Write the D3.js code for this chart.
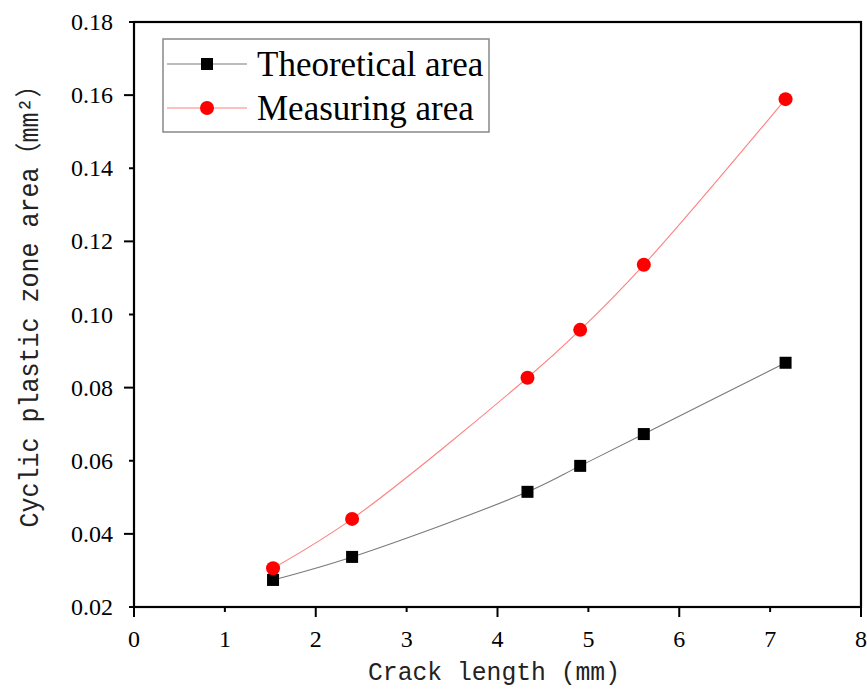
<!DOCTYPE html>
<html>
<head>
<meta charset="utf-8">
<script src="https://cdn.jsdelivr.net/npm/d3@7"></script>
<style>
  html, body { margin: 0; padding: 0; background: #fff; }
  svg { display: block; }
</style>
</head>
<body>
<svg id="chart" width="867" height="690"></svg>
<script>
// Crack length (mm) at each measurement
const crackLength = [1.53, 2.40, 4.33, 4.91, 5.61, 7.17];
// Cyclic plastic zone area (mm²)
const theoreticalArea = [0.0274, 0.0337, 0.0515, 0.0586, 0.0673, 0.0868];
const measuringArea   = [0.0306, 0.0441, 0.0827, 0.0958, 0.1136, 0.1589];
const seriesNames = ["Theoretical area", "Measuring area"];
const xTicks = [0, 1, 2, 3, 4, 5, 6, 7, 8];
const yTicks = [0.02, 0.04, 0.06, 0.08, 0.10, 0.12, 0.14, 0.16, 0.18];

const svg = d3.select("#chart");
const plot = { left: 134, right: 861, top: 22, bottom: 607 };

const x = d3.scaleLinear().domain([0, 8]).range([plot.left, plot.right]);
const y = d3.scaleLinear().domain([0.02, 0.18]).range([plot.bottom, plot.top]);

const serif = "'Liberation Serif', 'Times New Roman', serif";
const mono = "'Liberation Mono', 'Noto Sans CJK SC', monospace";

// Plot frame
svg.append("rect")
  .attr("x", plot.left).attr("y", plot.top)
  .attr("width", plot.right - plot.left).attr("height", plot.bottom - plot.top)
  .attr("fill", "none").attr("stroke", "#000").attr("stroke-width", 2.2);

// Bottom axis: longer ticks on even values, shorter on odd ones
const xAxis = svg.append("g").attr("transform", `translate(0,${plot.bottom})`);
xAxis.selectAll("line").data(xTicks).join("line")
  .attr("x1", d => x(d)).attr("x2", d => x(d))
  .attr("y1", 0).attr("y2", d => d % 2 === 0 ? 10 : 5)
  .attr("stroke", "#000").attr("stroke-width", 2);
xAxis.selectAll("text").data(xTicks).join("text")
  .attr("x", d => x(d)).attr("y", 40)
  .attr("text-anchor", "middle")
  .attr("font-family", serif).attr("font-size", 24)
  .text(d => d3.format("d")(d));

// Left axis
const yAxis = svg.append("g").attr("transform", `translate(${plot.left},0)`);
yAxis.selectAll("line").data(yTicks).join("line")
  .attr("y1", d => y(d)).attr("y2", d => y(d))
  .attr("x1", 0).attr("x2", (d, i) => i % 2 === 1 ? -10 : -5)
  .attr("stroke", "#000").attr("stroke-width", 2);
yAxis.selectAll("text").data(yTicks).join("text")
  .attr("x", -21).attr("y", d => y(d) + 8)
  .attr("text-anchor", "end")
  .attr("font-family", serif).attr("font-size", 24)
  .text(d => d3.format(".2f")(d));

// Axis titles
svg.append("text")
  .attr("x", 494).attr("y", 680)
  .attr("text-anchor", "middle")
  .attr("font-family", mono).attr("font-size", 26)
  .attr("textLength", 252).attr("lengthAdjust", "spacingAndGlyphs")
  .attr("fill", "#222")
  .text("Crack length (mm)");

svg.append("text")
  .attr("transform", "translate(38,300) rotate(-90)")
  .attr("text-anchor", "middle")
  .attr("font-family", mono).attr("font-size", 27)
  .attr("textLength", 455).attr("lengthAdjust", "spacingAndGlyphs")
  .attr("fill", "#222")
  .text("Cyclic plastic zone area（mm²）");

// Series
const series = [
  { name: seriesNames[0], values: theoreticalArea, color: "#000", line: "#7a7a7a", shape: "square" },
  { name: seriesNames[1], values: measuringArea, color: "#ff0000", line: "#ff8080", shape: "circle" }
];

const line = d3.line()
  .x(d => x(d[0])).y(d => y(d[1]))
  .curve(d3.curveCatmullRom.alpha(0.5));

function drawMarker(g, shape, color, cx, cy) {
  if (shape === "square") {
    g.append("rect")
      .attr("x", cx - 6).attr("y", cy - 6)
      .attr("width", 12).attr("height", 12)
      .attr("fill", color);
  } else {
    g.append("circle")
      .attr("cx", cx).attr("cy", cy).attr("r", 7)
      .attr("fill", color);
  }
}

series.forEach(s => {
  const pts = crackLength.map((c, i) => [c, s.values[i]]);
  svg.append("path")
    .datum(pts)
    .attr("d", line)
    .attr("fill", "none")
    .attr("stroke", s.line)
    .attr("stroke-width", 1.1);
  const g = svg.append("g");
  pts.forEach(p => drawMarker(g, s.shape, s.color, x(p[0]), y(p[1])));
});

// Legend
const legend = svg.append("g");
legend.append("rect")
  .attr("x", 163).attr("y", 39)
  .attr("width", 326).attr("height", 93)
  .attr("fill", "#fff").attr("stroke", "#888").attr("stroke-width", 1.5);
series.forEach((s, i) => {
  const ly = 64 + i * 44;
  legend.append("line")
    .attr("x1", 167).attr("x2", 247).attr("y1", ly).attr("y2", ly)
    .attr("stroke", s.line).attr("stroke-width", 1.1);
  drawMarker(legend, s.shape, s.color, 207, ly);
  legend.append("text")
    .attr("x", 257).attr("y", ly + 12)
    .attr("font-family", serif).attr("font-size", 35)
    .text(s.name);
});
</script>
</body>
</html>
